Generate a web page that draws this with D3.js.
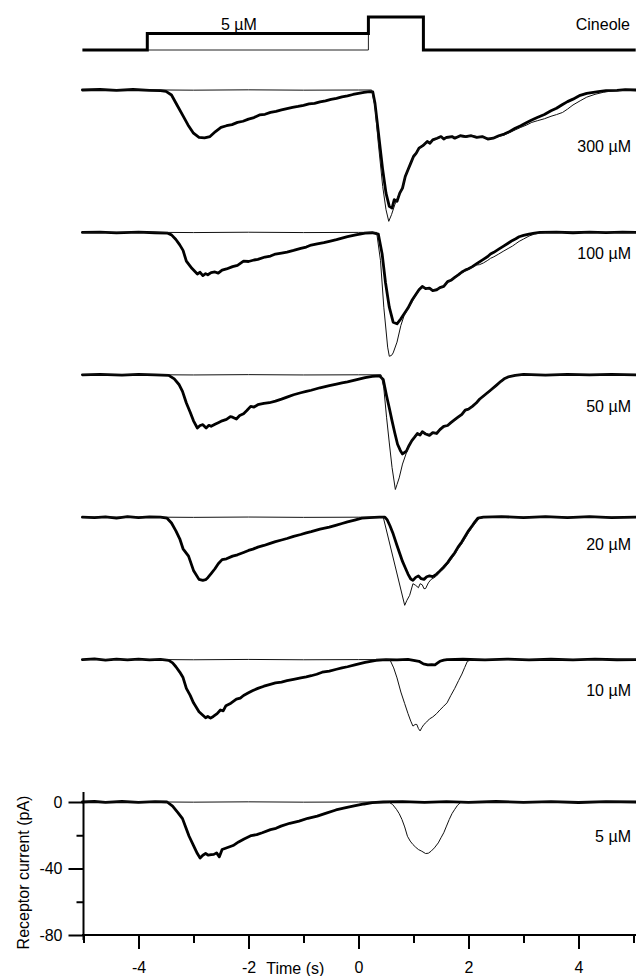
<!DOCTYPE html>
<html>
<head>
<meta charset="utf-8">
<script src="https://cdn.jsdelivr.net/npm/d3@7"></script>
<style>
  html, body { margin: 0; padding: 0; background: #fff; }
  svg text { font-family: "Liberation Sans", Arial, Helvetica, sans-serif; font-size: 16px; fill: #000; }
</style>
</head>
<body>
<svg id="chart" width="636" height="976"></svg>
<script>
// Conditioning concentrations, top panel to bottom panel
const concentrations = ["300 µM", "100 µM", "50 µM", "20 µM", "10 µM", "5 µM"];

// Stimulus protocol: [time (s), level] ; level 0 = none, 1 = conditioning 5 µM, 2 = cineole pulse
const stimulusThick = [[-5.02, 0], [-3.84, 0], [-3.84, 1], [0.18, 1], [0.18, 2], [1.18, 2], [1.18, 0], [5.04, 0]];
const stimulusThin = [[-3.84, 0], [0.18, 0], [0.18, 1]];

// Receptor current [time (s), current (pA)] — thick: conditioning + cineole, thin: cineole alone
const thick300 = [[-5.02,0],[-4.7,0.3],[-4.4,-0.2],[-4.1,0.3],[-3.8,-0.2],[-3.6,-0.4],[-3.5,-0.8],[-3.4,-3],[-3.3,-9],[-3.2,-15],[-3.1,-21],[-3.0,-26],[-2.9,-28.5],[-2.8,-28.8],[-2.7,-28],[-2.6,-25],[-2.5,-22.5],[-2.4,-21.5],[-2.3,-20.8],[-2.2,-19.5],[-2.1,-18.8],[-2.0,-17.5],[-1.9,-16.6],[-1.8,-15],[-1.7,-14.6],[-1.6,-13.5],[-1.5,-12.9],[-1.4,-12],[-1.3,-11.2],[-1.2,-10.5],[-1.1,-9.9],[-1.0,-9.2],[-0.9,-8.4],[-0.8,-8],[-0.7,-7.1],[-0.6,-6.5],[-0.5,-5.6],[-0.4,-5],[-0.3,-4.1],[-0.2,-3.5],[-0.1,-2.7],[0,-2],[0.1,-1.4],[0.2,-1],[0.26,-1.2],[0.3,-8],[0.36,-25],[0.44,-48],[0.5,-62],[0.56,-70],[0.61,-71],[0.65,-66],[0.7,-67],[0.75,-62],[0.8,-59],[0.85,-52],[0.9,-48],[0.95,-44],[1.0,-40],[1.05,-38],[1.1,-35],[1.17,-33.5],[1.25,-31],[1.3,-32],[1.35,-30],[1.43,-29],[1.5,-28],[1.55,-29.5],[1.6,-28.5],[1.7,-28],[1.75,-29],[1.85,-27.5],[1.95,-28],[2.05,-27.5],[2.15,-28.5],[2.25,-28],[2.35,-29.5],[2.45,-29],[2.55,-27.5],[2.65,-26.5],[2.75,-25],[2.85,-23],[2.95,-21.5],[3.06,-19.5],[3.15,-18],[3.25,-16.5],[3.38,-14.7],[3.5,-12.5],[3.6,-11],[3.71,-8.7],[3.8,-7],[3.9,-5.5],[4.03,-3.2],[4.15,-2],[4.36,-1],[4.5,-0.4],[4.7,-0.2],[4.85,0.2],[5.04,0]];
const thin300 = [[-5.02,0],[-4,0.1],[-3,-0.1],[-2,0.1],[-1,-0.1],[0,0],[0.24,0],[0.3,-10],[0.36,-32],[0.44,-58],[0.5,-72],[0.55,-79],[0.6,-75],[0.66,-69],[0.72,-64],[0.8,-59],[0.85,-52],[0.9,-48],[0.95,-44],[1.0,-40.5],[1.05,-38],[1.1,-35.5],[1.17,-33],[1.25,-31.5],[1.3,-31.5],[1.35,-30.5],[1.43,-29],[1.5,-28.5],[1.6,-29],[1.7,-28.5],[1.85,-28],[1.95,-28.5],[2.05,-27.5],[2.15,-28],[2.25,-28.5],[2.35,-29],[2.45,-29],[2.55,-28],[2.65,-27],[2.75,-25.5],[2.85,-24],[2.95,-22.5],[3.06,-21],[3.15,-19.5],[3.25,-18.5],[3.38,-17.3],[3.5,-15.8],[3.6,-14.8],[3.71,-13.5],[3.8,-11.5],[3.9,-9],[4.03,-6.5],[4.15,-4.3],[4.3,-2.6],[4.45,-1.4],[4.6,-0.6],[4.8,-0.2],[5.04,0]];

const thick100 = [[-5.02,0],[-4.7,0.2],[-4.4,-0.3],[-4.0,0.2],[-3.7,-0.2],[-3.48,-0.4],[-3.4,-1.5],[-3.32,-4.3],[-3.25,-7.5],[-3.19,-10.8],[-3.13,-17.3],[-3.03,-21.6],[-2.93,-25],[-2.88,-24],[-2.83,-26],[-2.78,-24.8],[-2.74,-25.5],[-2.68,-24.2],[-2.61,-23.8],[-2.55,-24.5],[-2.48,-22.7],[-2.4,-22],[-2.29,-20.6],[-2.2,-19.8],[-2.09,-17.3],[-2.0,-17.5],[-1.9,-16.6],[-1.83,-16.2],[-1.7,-14.8],[-1.6,-14.2],[-1.51,-13],[-1.4,-12.4],[-1.3,-11.8],[-1.18,-10.8],[-1.05,-9.6],[-0.95,-8.8],[-0.86,-7.6],[-0.75,-6.9],[-0.63,-6.2],[-0.53,-5.4],[-0.4,-4.4],[-0.3,-3.5],[-0.2,-2.6],[-0.05,-1.5],[0.12,-0.4],[0.25,-0.2],[0.36,-1],[0.43,-13],[0.49,-30],[0.56,-45],[0.63,-54],[0.7,-55],[0.77,-52],[0.84,-48.5],[0.9,-45.5],[0.97,-41],[1.03,-38],[1.1,-34.5],[1.16,-32.5],[1.22,-33.8],[1.29,-33.5],[1.35,-35],[1.42,-34.6],[1.48,-33.2],[1.55,-32.5],[1.62,-29.6],[1.68,-28.8],[1.75,-27],[1.82,-25.4],[1.88,-23.8],[1.94,-22.7],[2.0,-21.9],[2.07,-20.6],[2.15,-18.8],[2.2,-17.7],[2.27,-16.2],[2.35,-14.5],[2.4,-13],[2.46,-12],[2.55,-10.1],[2.63,-8.4],[2.72,-6.5],[2.8,-4.8],[2.86,-3.8],[2.92,-2.6],[3.0,-1.8],[3.1,-1],[3.2,-0.4],[3.3,0],[3.6,0.2],[3.9,-0.2],[4.2,0.2],[4.5,-0.1],[4.8,0.2],[5.04,0]];
const thin100 = [[-5.02,0],[-4,0.1],[-3,-0.1],[-2,0.1],[-1,-0.1],[0,0],[0.33,0],[0.4,-17],[0.46,-45],[0.53,-69],[0.56,-74.5],[0.6,-74],[0.63,-72.5],[0.7,-66],[0.77,-56],[0.83,-50],[0.9,-46],[0.97,-42],[1.03,-38.5],[1.1,-35],[1.16,-33],[1.22,-33.5],[1.29,-34],[1.35,-34.5],[1.42,-34],[1.48,-33.5],[1.55,-32],[1.62,-30],[1.68,-28.5],[1.75,-27.5],[1.82,-25.8],[1.88,-24.5],[1.94,-23.2],[2.0,-22.2],[2.07,-21],[2.15,-19.6],[2.2,-19.4],[2.27,-18.4],[2.35,-16.8],[2.4,-15.6],[2.46,-14.7],[2.55,-13],[2.63,-11.4],[2.72,-9.7],[2.8,-8.2],[2.86,-6.8],[2.92,-5.4],[3.0,-4],[3.1,-2.2],[3.2,-1],[3.3,-0.4],[3.42,0],[4,0.1],[5.04,0]];

const thick50 = [[-5.02,0],[-4.7,0.3],[-4.3,-0.2],[-4.0,0.3],[-3.7,0],[-3.45,-0.3],[-3.35,-2.5],[-3.26,-6],[-3.2,-10],[-3.13,-17],[-3.06,-22.5],[-3.0,-27.7],[-2.93,-32],[-2.88,-30.5],[-2.83,-30],[-2.77,-32],[-2.72,-30.4],[-2.68,-31],[-2.6,-29.6],[-2.55,-28.8],[-2.48,-27.7],[-2.4,-26.8],[-2.33,-25.2],[-2.29,-25.5],[-2.22,-26.6],[-2.16,-24.5],[-2.09,-23.4],[-2.03,-21.5],[-1.96,-19],[-1.9,-19.4],[-1.83,-18],[-1.72,-17.2],[-1.62,-16.8],[-1.51,-15.8],[-1.4,-14.6],[-1.3,-13.4],[-1.18,-12],[-1.05,-10.8],[-0.95,-10],[-0.86,-9.3],[-0.7,-7.8],[-0.53,-6.5],[-0.4,-5.6],[-0.3,-4.9],[-0.2,-4.3],[-0.05,-3],[0.12,-1.7],[0.25,-1],[0.38,-0.6],[0.45,-2.8],[0.51,-12.6],[0.56,-20],[0.61,-27.7],[0.66,-35],[0.71,-41.8],[0.76,-45.5],[0.8,-47.6],[0.87,-46],[0.92,-42.5],[0.97,-39.6],[1.02,-37.5],[1.07,-35.3],[1.12,-36.2],[1.16,-34.2],[1.22,-35.6],[1.29,-36.4],[1.35,-34.8],[1.42,-35.3],[1.48,-33],[1.55,-31],[1.62,-30.5],[1.68,-28.8],[1.75,-27],[1.81,-25.5],[1.88,-23.8],[1.94,-21.2],[2.0,-20.6],[2.07,-19],[2.14,-17],[2.2,-14.7],[2.3,-12],[2.4,-9.3],[2.5,-6.5],[2.59,-3.9],[2.66,-2.2],[2.72,-1.3],[2.85,-0.4],[3.0,0.2],[3.4,-0.2],[3.8,0.2],[4.2,-0.1],[4.6,0.2],[5.04,0]];
const thin50 = [[-5.02,0],[-4,0.1],[-3,-0.1],[-2,0.1],[-1,-0.1],[0,0],[0.41,0],[0.46,-8],[0.51,-25.5],[0.56,-41],[0.61,-55.8],[0.67,-69],[0.7,-66],[0.74,-62],[0.8,-53.7],[0.87,-47],[0.93,-41.8],[0.97,-39],[1.02,-37],[1.07,-35.5],[1.12,-35.8],[1.16,-34.8],[1.22,-35.2],[1.29,-36],[1.35,-35],[1.42,-35],[1.48,-33.5],[1.55,-31.5],[1.62,-30.2],[1.68,-29],[1.75,-27.3],[1.81,-25.8],[1.88,-24],[1.94,-21.8],[2.0,-20.8],[2.07,-19.2],[2.14,-17.2],[2.2,-15],[2.3,-12.4],[2.4,-9.8],[2.5,-6.8],[2.59,-4.2],[2.66,-2.4],[2.72,-1.3],[2.85,-0.3],[3.0,0],[5.04,0]];

const thick20 = [[-5.02,0],[-4.8,-0.3],[-4.6,0.2],[-4.4,-0.5],[-4.2,0.3],[-4.0,-0.2],[-3.8,0.2],[-3.6,0],[-3.48,-0.6],[-3.4,-3.5],[-3.32,-8.2],[-3.25,-13],[-3.19,-19],[-3.09,-23.4],[-3.0,-32],[-2.9,-37.4],[-2.83,-38],[-2.78,-37.6],[-2.74,-36.4],[-2.68,-34],[-2.61,-31],[-2.55,-28],[-2.48,-25.5],[-2.4,-25],[-2.29,-23.4],[-2.2,-22.6],[-2.09,-21.2],[-2.0,-20],[-1.92,-19.2],[-1.83,-18],[-1.72,-17],[-1.62,-15.9],[-1.51,-14.7],[-1.4,-13.7],[-1.3,-12.8],[-1.18,-11.5],[-1.05,-10.4],[-0.95,-9.4],[-0.86,-8.7],[-0.7,-7.2],[-0.53,-6],[-0.4,-4.8],[-0.3,-3.8],[-0.2,-2.8],[-0.07,-1.7],[0.06,-0.6],[0.2,-0.2],[0.38,0],[0.48,0],[0.52,-1.5],[0.57,-5],[0.63,-10],[0.7,-17],[0.75,-21.8],[0.8,-26.6],[0.85,-30.4],[0.9,-34.2],[0.95,-37.2],[0.99,-38],[1.04,-36.2],[1.09,-35.3],[1.14,-37],[1.19,-37.4],[1.24,-35.8],[1.29,-35.3],[1.35,-35.7],[1.42,-34.2],[1.48,-32.3],[1.55,-29.9],[1.62,-27.3],[1.68,-24.5],[1.75,-21.4],[1.81,-18],[1.88,-14.8],[1.94,-11.5],[2.0,-8.2],[2.07,-5],[2.12,-2.6],[2.17,-0.6],[2.27,0],[2.6,0.3],[3.0,-0.2],[3.4,0.3],[3.8,-0.2],[4.2,0.3],[4.6,-0.2],[5.04,0]];
const thin20 = [[-5.02,0],[-4,0.1],[-3,-0.1],[-2,0.1],[-1,-0.1],[0,0],[0.45,0],[0.84,-53],[0.88,-50],[0.93,-47],[0.99,-40],[1.04,-41],[1.09,-42.4],[1.12,-40],[1.16,-40.7],[1.19,-43],[1.22,-42.9],[1.27,-39.5],[1.32,-37.4],[1.37,-36.5],[1.42,-35.3],[1.48,-33],[1.55,-31],[1.62,-28.3],[1.68,-25.5],[1.75,-22.4],[1.81,-19],[1.88,-15.8],[1.94,-12.6],[2.0,-9.3],[2.07,-6],[2.14,-3],[2.2,-0.6],[2.3,0],[5.04,0]];

const thick10 = [[-5.02,0],[-4.8,0.4],[-4.6,-0.3],[-4.4,0.3],[-4.2,-0.2],[-4.0,0.3],[-3.8,-0.2],[-3.6,0.1],[-3.45,-0.5],[-3.38,-2],[-3.32,-4.3],[-3.25,-7.5],[-3.19,-10.8],[-3.13,-17.3],[-3.06,-21.5],[-3.0,-26],[-2.9,-31.4],[-2.83,-33.5],[-2.78,-35],[-2.74,-34.2],[-2.69,-35.2],[-2.64,-34.2],[-2.57,-32.5],[-2.51,-30.3],[-2.46,-30.8],[-2.41,-27.7],[-2.32,-26.2],[-2.22,-23.8],[-2.15,-23.2],[-2.09,-21.6],[-2.0,-20],[-1.92,-18.6],[-1.83,-17.3],[-1.72,-16],[-1.62,-15],[-1.51,-14],[-1.4,-13.5],[-1.3,-12.7],[-1.18,-11.9],[-1.05,-11],[-0.95,-10.4],[-0.86,-9.7],[-0.76,-8.8],[-0.66,-7.6],[-0.53,-6.9],[-0.4,-5.8],[-0.3,-5],[-0.2,-4.3],[-0.05,-3],[0.12,-1.7],[0.22,-1],[0.32,-0.4],[0.5,0],[0.7,-0.2],[0.9,0.1],[1.0,-0.4],[1.1,-1],[1.18,-2.6],[1.26,-3.2],[1.33,-3],[1.39,-3.2],[1.44,-2],[1.48,-1],[1.55,-0.3],[1.61,0],[1.9,0.2],[2.3,-0.2],[2.7,0.3],[3.1,-0.2],[3.5,0.2],[3.9,-0.2],[4.3,0.3],[4.7,-0.1],[5.04,0]];
const thin10 = [[-5.02,0],[-4,0.1],[-3,-0.1],[-2,0.1],[-1,-0.1],[0,0],[0.57,0],[0.64,-5],[0.7,-11],[0.77,-19.5],[0.84,-26.5],[0.9,-32.5],[0.95,-37],[0.99,-40],[1.03,-39],[1.06,-39],[1.09,-41.5],[1.12,-42.9],[1.15,-41],[1.19,-39],[1.24,-37.5],[1.29,-35.7],[1.35,-34.5],[1.42,-32.5],[1.48,-30.3],[1.55,-28],[1.61,-26],[1.68,-21.5],[1.75,-17.3],[1.82,-12.6],[1.88,-8.7],[1.93,-4.8],[1.98,-1],[2.07,0],[5.04,0]];

const thick5 = [[-5.02,0],[-4.8,0.3],[-4.6,-0.2],[-4.3,0.3],[-4.0,-0.2],[-3.7,0.2],[-3.48,0],[-3.38,-2.5],[-3.28,-6.5],[-3.2,-10],[-3.15,-14.5],[-3.08,-20.6],[-2.98,-27.6],[-2.93,-31],[-2.88,-33.7],[-2.83,-32],[-2.78,-31],[-2.73,-32],[-2.68,-31.7],[-2.63,-31.5],[-2.58,-30.6],[-2.53,-33],[-2.48,-28.6],[-2.38,-27.4],[-2.28,-26.2],[-2.18,-24],[-2.08,-22.2],[-1.95,-20.2],[-1.85,-19.6],[-1.75,-18.5],[-1.6,-16.6],[-1.5,-15.8],[-1.41,-14.5],[-1.25,-12.8],[-1.08,-11.5],[-0.92,-9.8],[-0.75,-8.5],[-0.6,-6.8],[-0.41,-4.8],[-0.25,-3.6],[-0.08,-2.4],[0.1,-1.2],[0.25,-0.4],[0.45,0],[0.8,0.2],[1.2,-0.2],[1.6,0.2],[2.0,-0.2],[2.5,0.3],[3.0,-0.2],[3.5,0.2],[4.0,-0.3],[4.5,0.2],[5.04,0]];
const thin5 = [[-5.02,0],[-4,0.1],[-3,-0.1],[-2,0.1],[-1,-0.1],[0,0],[0.55,0],[0.62,-1.5],[0.69,-4.4],[0.74,-7],[0.79,-10.5],[0.84,-15],[0.89,-20.6],[0.94,-23.5],[0.99,-25.6],[1.04,-27.2],[1.09,-28.6],[1.15,-29.6],[1.22,-31],[1.27,-30.8],[1.32,-29.6],[1.38,-27.6],[1.45,-24.6],[1.5,-21.5],[1.55,-18.5],[1.6,-14.5],[1.65,-10.5],[1.7,-7],[1.75,-4.4],[1.8,-2],[1.85,-0.4],[1.92,0],[5.04,0]];

const thickTraces = [thick300, thick100, thick50, thick20, thick10, thick5];
const thinTraces = [thin300, thin100, thin50, thin20, thin10, thin5];

// Axis ticks
const xMajorTicks = [-4, -2, 0, 2, 4];
const xMinorTicks = [-5, -3, -1, 1, 3, 5];
const yMajorTicks = [0, -40, -80];
const yMinorTicks = [-20, -60];

// ---- layout ----
const svg = d3.select("#chart");
const x = d3.scaleLinear().domain([-5, 5]).range([83.5, 633.5]);
const y = d3.scaleLinear().domain([-80, 0]).range([935, 802]);
const stimY = d3.scaleLinear().domain([0, 2]).range([50, 17]);
const panelStep = 142.4;                        // vertical spacing between stacked recordings
const labelDy = [56, 21, 31, 27, 31, 34];       // label centre below each panel's baseline

const line = d3.line().x(d => x(d[0])).y(d => y(d[1]));
const stimLine = d3.line().x(d => x(d[0])).y(d => stimY(d[1]));
const plain = d => String(d);                   // hyphen-minus tick labels

// Stimulus protocol trace
svg.append("path").attr("d", stimLine(stimulusThin))
  .attr("fill", "none").attr("stroke", "#222").attr("stroke-width", 1);
svg.append("path").attr("d", stimLine(stimulusThick))
  .attr("fill", "none").attr("stroke", "#000").attr("stroke-width", 3)
  .attr("stroke-linejoin", "miter");
svg.append("text").attr("x", 221).attr("y", 30).text("5 µM");
svg.append("text").attr("x", 630).attr("y", 30).attr("text-anchor", "end").text("Cineole");

// Stacked recordings
concentrations.forEach((c, i) => {
  const shift = (concentrations.length - 1 - i) * panelStep;
  const g = svg.append("g").attr("transform", `translate(0,${-shift})`);
  g.append("path").attr("d", line(thickTraces[i]))
    .attr("fill", "none").attr("stroke", "#000").attr("stroke-width", 2.8)
    .attr("stroke-linejoin", "round").attr("stroke-linecap", "round");
  g.append("path").attr("d", line(thinTraces[i]))
    .attr("fill", "none").attr("stroke", "#111").attr("stroke-width", 1)
    .attr("stroke-linejoin", "round");
  g.append("text").attr("x", 631).attr("y", y(0) + labelDy[i])
    .attr("dy", "0.36em").attr("text-anchor", "end").text(c);
});

// Axes of the bottom recording
const axisStroke = sel => sel.selectAll("line,path").attr("stroke", "#000").attr("stroke-width", 2);

const xMinor = svg.append("g").attr("transform", `translate(0,${y(-80)})`)
  .call(d3.axisBottom(x).tickValues(xMinorTicks).tickSize(8).tickSizeOuter(0).tickFormat(""));
xMinor.select(".domain").remove();
axisStroke(xMinor);

const xMajor = svg.append("g").attr("transform", `translate(0,${y(-80)})`)
  .call(d3.axisBottom(x).tickValues(xMajorTicks).tickSize(14).tickPadding(13).tickSizeOuter(0)
    .tickFormat(plain));
xMajor.select(".domain").remove();
axisStroke(xMajor);

svg.append("line").attr("x1", 82).attr("x2", 636).attr("y1", y(-80)).attr("y2", y(-80))
  .attr("stroke", "#000").attr("stroke-width", 2);

const yMinor = svg.append("g").attr("transform", `translate(${x(-5)},0)`)
  .call(d3.axisLeft(y).tickValues(yMinorTicks).tickSize(7).tickSizeOuter(0).tickFormat(""));
yMinor.select(".domain").remove();
axisStroke(yMinor);

const yMajor = svg.append("g").attr("transform", `translate(${x(-5)},0)`)
  .call(d3.axisLeft(y).tickValues(yMajorTicks).tickSize(15).tickPadding(6).tickSizeOuter(0)
    .tickFormat(plain));
yMajor.select(".domain").remove();
axisStroke(yMajor);

svg.append("line").attr("x1", x(-5)).attr("x2", x(-5)).attr("y1", 792).attr("y2", y(-80) + 5)
  .attr("stroke", "#000").attr("stroke-width", 2);

// Axis titles
svg.append("text").attr("x", x(-1.15)).attr("y", 974).attr("text-anchor", "middle").text("Time (s)");
svg.append("text").attr("transform", `translate(29,${(792 + 953) / 2}) rotate(-90)`)
  .attr("text-anchor", "middle").text("Receptor current (pA)");
</script>
</body>
</html>
